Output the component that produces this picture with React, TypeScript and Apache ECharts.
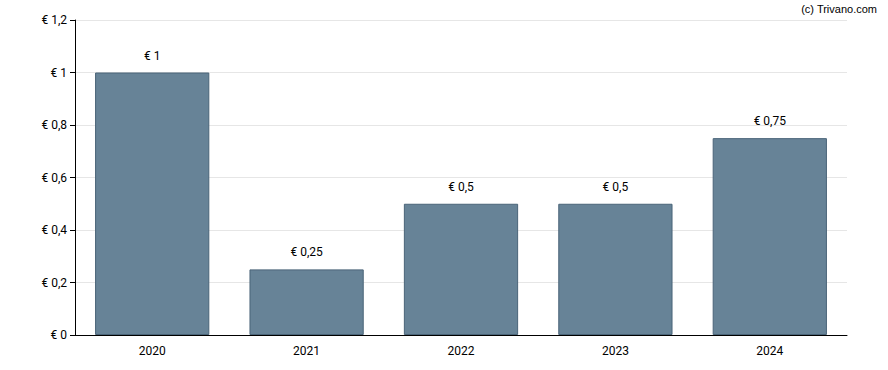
import React, { useEffect, useRef } from "react";
import * as echarts from "echarts";

const categories = ["2020", "2021", "2022", "2023", "2024"];
const values = [1, 0.25, 0.5, 0.5, 0.75];
const yTicks = [0, 0.2, 0.4, 0.6, 0.8, 1, 1.2];

const fmt = (v: number) => "€ " + String(Math.round(v * 100) / 100).replace(".", ",");

export default function App() {
  const ref = useRef<HTMLDivElement>(null);
  useEffect(() => {
    if (!ref.current) return;
    const chart = echarts.init(ref.current, null, { renderer: "svg" });
    chart.setOption({
      animation: false,
      grid: { left: 75, right: 41, top: 20, bottom: 35, containLabel: false },
      graphic: [
        {
          type: "text",
          x: 877,
          y: 3,
          style: {
            text: "(c) Trivano.com",
            fontSize: 11,
            fontFamily: "Arial, 'Liberation Sans'",
            fill: "#000",
            align: "right",
            verticalAlign: "top",
          },
        },
      ],
      xAxis: {
        type: "category",
        data: categories,
        axisLine: { lineStyle: { color: "#000", width: 1 } },
        axisTick: { alignWithLabel: true, length: 5, lineStyle: { color: "#000" } },
        axisLabel: { color: "#000", fontSize: 12, fontFamily: "Roboto", margin: 10 },
      },
      yAxis: {
        type: "value",
        min: 0,
        max: yTicks[yTicks.length - 1],
        interval: 0.2,
        axisLine: { show: true, lineStyle: { color: "#000", width: 1 } },
        axisTick: { show: true, length: 5, lineStyle: { color: "#000" } },
        axisLabel: { color: "#000", fontSize: 12, fontFamily: "Roboto", margin: 8, formatter: (v: number) => fmt(v) },
        splitLine: { show: true, lineStyle: { color: "#e6e6e6", width: 1 } },
      },
      series: [
        {
          type: "bar",
          data: values,
          barCategoryGap: "26%",
          itemStyle: { color: "#678397", borderColor: "#4a6478", borderWidth: 1 },
          label: {
            show: true,
            position: "top",
            distance: 11,
            color: "#000",
            fontSize: 12,
            fontFamily: "Roboto",
            formatter: (p: any) => fmt(p.value),
          },
        },
      ],
    });
    return () => chart.dispose();
  }, []);
  return (
    <div style={{ position: "absolute", left: 0, top: 0, width: 888, height: 370 }}>
      <div ref={ref} style={{ width: 888, height: 370 }} />
    </div>
  );
}
